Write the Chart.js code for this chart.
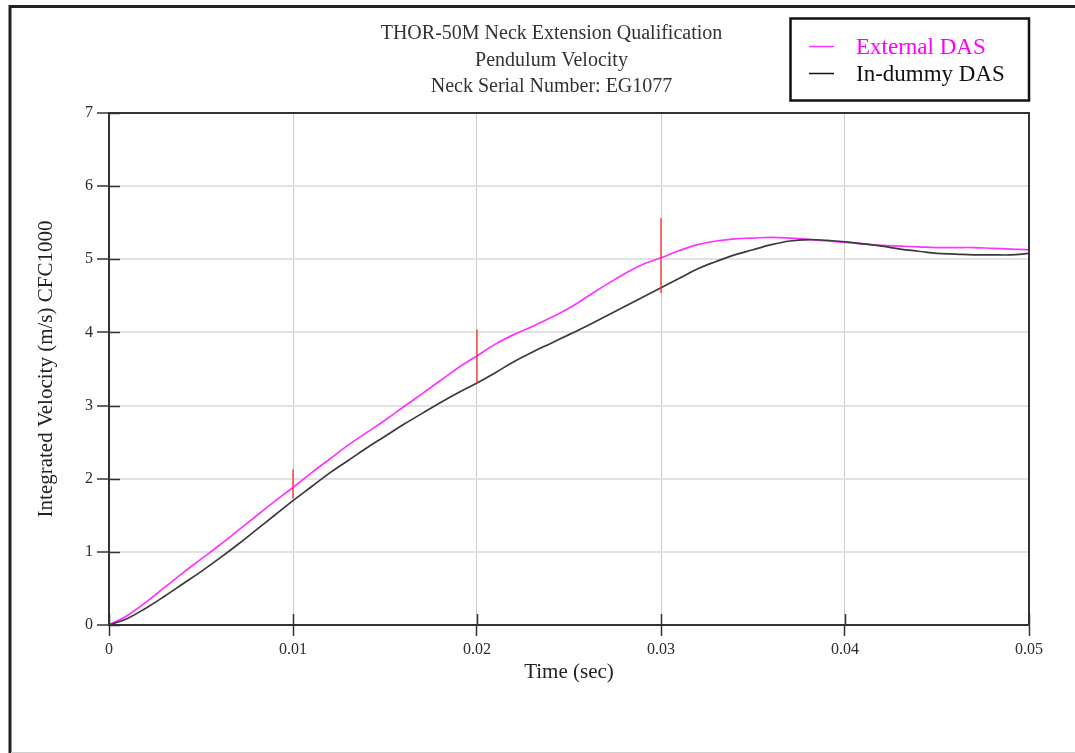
<!DOCTYPE html>
<html>
<head>
<meta charset="utf-8">
<title>THOR-50M Neck Extension Qualification - Pendulum Velocity</title>
<script src="https://cdn.jsdelivr.net/npm/chart.js@4.4.1/dist/chart.umd.min.js"></script>
<style>
  html, body { margin: 0; padding: 0; background: #ffffff; }
  #wrap { position: relative; width: 1075px; height: 753px; }
  canvas { display: block; }
</style>
</head>
<body>
<div id="wrap"><canvas id="chart" width="1075" height="753"></canvas></div>
<script>
// Time base (s) shared by both velocity traces
const timeSec = [
  0.000, 0.001, 0.002, 0.003, 0.004, 0.005, 0.006, 0.007, 0.008, 0.009,
  0.010, 0.011, 0.012, 0.013, 0.014, 0.015, 0.016, 0.017, 0.018, 0.019,
  0.020, 0.021, 0.022, 0.023, 0.024, 0.025, 0.026, 0.027, 0.028, 0.029,
  0.030, 0.031, 0.032, 0.033, 0.034, 0.035, 0.036, 0.037, 0.038, 0.039,
  0.040, 0.041, 0.042, 0.043, 0.044, 0.045, 0.046, 0.047, 0.048, 0.049,
  0.050
];

// Integrated pendulum velocity (m/s), external data acquisition system
const externalDAS = [
  0.00, 0.13, 0.31, 0.51, 0.71, 0.90, 1.09, 1.29, 1.49, 1.69,
  1.88, 2.08, 2.27, 2.46, 2.63, 2.80, 2.98, 3.16, 3.34, 3.52,
  3.68, 3.84, 3.97, 4.08, 4.20, 4.33, 4.49, 4.65, 4.80, 4.93,
  5.02, 5.12, 5.20, 5.25, 5.28, 5.29, 5.30, 5.29, 5.27, 5.25,
  5.23, 5.21, 5.19, 5.18, 5.17, 5.16, 5.16, 5.16, 5.15, 5.14,
  5.13
];

// Integrated pendulum velocity (m/s), in-dummy data acquisition system
const inDummyDAS = [
  0.00, 0.09, 0.23, 0.39, 0.56, 0.73, 0.91, 1.10, 1.30, 1.50,
  1.70, 1.89, 2.08, 2.25, 2.42, 2.58, 2.74, 2.89, 3.04, 3.18,
  3.31, 3.45, 3.60, 3.73, 3.85, 3.97, 4.09, 4.22, 4.35, 4.48,
  4.61, 4.74, 4.87, 4.97, 5.06, 5.13, 5.20, 5.25, 5.27, 5.26,
  5.24, 5.21, 5.18, 5.14, 5.11, 5.08, 5.07, 5.06, 5.06, 5.06,
  5.08
];

// Qualification corridor markers (vertical bars)
const corridorTime = [0.01, 0.02, 0.03];
const corridorLow  = [1.73, 3.30, 4.54];
const corridorHigh = [2.13, 4.04, 5.56];

// Axis ticks
const xTickValues = [0, 0.01, 0.02, 0.03, 0.04, 0.05];
const xTickLabels = ['0', '0.01', '0.02', '0.03', '0.04', '0.05'];
const yTickValues = [0, 1, 2, 3, 4, 5, 6, 7];
const yTickLabels = ['0', '1', '2', '3', '4', '5', '6', '7'];

// Text
const titleLines = [
  'THOR-50M Neck Extension Qualification',
  'Pendulum Velocity',
  'Neck Serial Number: EG1077'
];
const seriesNames = ['External DAS', 'In-dummy DAS'];
const xAxisTitle = 'Time (sec)';
const yAxisTitle = 'Integrated Velocity (m/s) CFC1000';

const SERIF = "'Liberation Serif', 'Times New Roman', 'DejaVu Serif', serif";
const COLOR_EXT = '#ff33ff';
const COLOR_DUMMY = '#3a3a3a';
const COLOR_CORRIDOR = '#ff2a2a';
const AXIS_DARK = '#333333';

const toPoints = (xs, ys) => xs.map((x, i) => ({ x: x, y: ys[i] }));

// Each corridor bar is a two-point segment; a null point breaks the line between bars
const corridorPoints = [];
corridorTime.forEach((t, i) => {
  corridorPoints.push({ x: t, y: corridorLow[i] });
  corridorPoints.push({ x: t, y: corridorHigh[i] });
  corridorPoints.push({ x: t, y: null });
});

// Page frame, plot border, inner tick marks, title block and legend box
const decorations = {
  id: 'decorations',
  beforeDraw(chart) {
    const ctx = chart.ctx;
    ctx.save();
    ctx.fillStyle = '#ffffff';
    ctx.fillRect(0, 0, chart.width, chart.height);
    ctx.restore();
  },
  afterDraw(chart) {
    const ctx = chart.ctx;
    const a = chart.chartArea;
    const xs = chart.scales.x;
    const ys = chart.scales.y;
    ctx.save();

    // outer page frame
    ctx.strokeStyle = '#222222';
    ctx.lineWidth = 3;
    ctx.beginPath();
    ctx.moveTo(10, 753);
    ctx.lineTo(10, 6.5);
    ctx.lineTo(1075, 6.5);
    ctx.stroke();
    ctx.strokeStyle = '#cfcfcf';
    ctx.lineWidth = 1;
    ctx.beginPath();
    ctx.moveTo(11, 752.5);
    ctx.lineTo(1075, 752.5);
    ctx.stroke();

    // top and right border of the plotting area
    ctx.strokeStyle = AXIS_DARK;
    ctx.lineWidth = 2;
    ctx.beginPath();
    ctx.moveTo(a.left, a.top);
    ctx.lineTo(a.right, a.top);
    ctx.lineTo(a.right, a.bottom);
    ctx.stroke();

    // tick marks continuing into the plotting area
    ctx.lineWidth = 1.5;
    ctx.beginPath();
    yTickValues.forEach(v => {
      const py = Math.round(ys.getPixelForValue(v)) + 0.5;
      ctx.moveTo(a.left, py);
      ctx.lineTo(a.left + 11, py);
    });
    xTickValues.forEach(v => {
      const px = Math.round(xs.getPixelForValue(v)) + 0.5;
      ctx.moveTo(px, a.bottom);
      ctx.lineTo(px, a.bottom - 11);
    });
    ctx.stroke();

    // title block
    ctx.fillStyle = '#333333';
    ctx.font = '20px ' + SERIF;
    ctx.textAlign = 'center';
    ctx.textBaseline = 'alphabetic';
    const titleBase = [39, 65.5, 92];
    titleLines.forEach((line, i) => ctx.fillText(line, 551.5, titleBase[i]));

    // legend box
    ctx.strokeStyle = '#111111';
    ctx.lineWidth = 2.5;
    ctx.strokeRect(790.5, 18.5, 238.5, 82);
    const legendRows = [
      { name: seriesNames[0], color: COLOR_EXT, text: '#ff00ff', y: 46.5, base: 53.5 },
      { name: seriesNames[1], color: '#111111', text: '#111111', y: 73.5, base: 81 }
    ];
    ctx.textAlign = 'left';
    ctx.font = '23px ' + SERIF;
    legendRows.forEach(r => {
      ctx.strokeStyle = r.color;
      ctx.lineWidth = 1.5;
      ctx.beginPath();
      ctx.moveTo(809, r.y);
      ctx.lineTo(834, r.y);
      ctx.stroke();
      ctx.fillStyle = r.text;
      ctx.fillText(r.name, 856, r.base);
    });

    ctx.restore();
  }
};

new Chart(document.getElementById('chart'), {
  type: 'line',
  data: {
    datasets: [
      {
        label: 'Corridor',
        data: corridorPoints,
        borderColor: COLOR_CORRIDOR,
        borderWidth: 1.3,
        pointRadius: 0,
        tension: 0,
        spanGaps: false
      },
      {
        label: seriesNames[1],
        data: toPoints(timeSec, inDummyDAS),
        borderColor: COLOR_DUMMY,
        borderWidth: 1.7,
        pointRadius: 0,
        tension: 0.4
      },
      {
        label: seriesNames[0],
        data: toPoints(timeSec, externalDAS),
        borderColor: COLOR_EXT,
        borderWidth: 1.7,
        pointRadius: 0,
        tension: 0.4
      }
    ]
  },
  options: {
    responsive: false,
    animation: false,
    devicePixelRatio: 1,
    layout: { padding: { top: 113, right: 46, bottom: 0, left: 0 } },
    plugins: {
      legend: { display: false },
      title: { display: false },
      tooltip: { enabled: false }
    },
    scales: {
      x: {
        type: 'linear',
        min: 0,
        max: 0.05,
        afterBuildTicks: s => { s.ticks = xTickValues.map(v => ({ value: v })); },
        afterFit: s => { s.height = 128; },
        grid: {
          color: '#cccccc',
          lineWidth: 1,
          drawTicks: true,
          tickLength: 11,
          tickColor: AXIS_DARK,
          tickWidth: 1.5
        },
        border: { color: AXIS_DARK, width: 2 },
        ticks: {
          padding: 4,
          maxRotation: 0,
          autoSkip: false,
          color: '#2b2b2b',
          font: { family: SERIF, size: 16 },
          callback: (v, i) => xTickLabels[i]
        },
        title: {
          display: true,
          text: xAxisTitle,
          color: '#222222',
          font: { family: SERIF, size: 21 },
          padding: { top: 0, bottom: 68 }
        }
      },
      y: {
        type: 'linear',
        min: 0,
        max: 7,
        afterBuildTicks: s => { s.ticks = yTickValues.map(v => ({ value: v })); },
        afterFit: s => { s.width = 109; },
        grid: {
          color: '#e2e2e2',
          lineWidth: 2,
          drawTicks: true,
          tickLength: 12,
          tickColor: AXIS_DARK,
          tickWidth: 1.5
        },
        border: { color: AXIS_DARK, width: 2 },
        ticks: {
          padding: 4,
          autoSkip: false,
          color: '#2b2b2b',
          font: { family: SERIF, size: 16 },
          callback: (v, i) => yTickLabels[i]
        },
        title: {
          display: true,
          text: yAxisTitle,
          color: '#222222',
          font: { family: SERIF, size: 21 },
          padding: { top: 34, bottom: 0 }
        }
      }
    }
  },
  plugins: [decorations]
});
</script>
</body>
</html>
